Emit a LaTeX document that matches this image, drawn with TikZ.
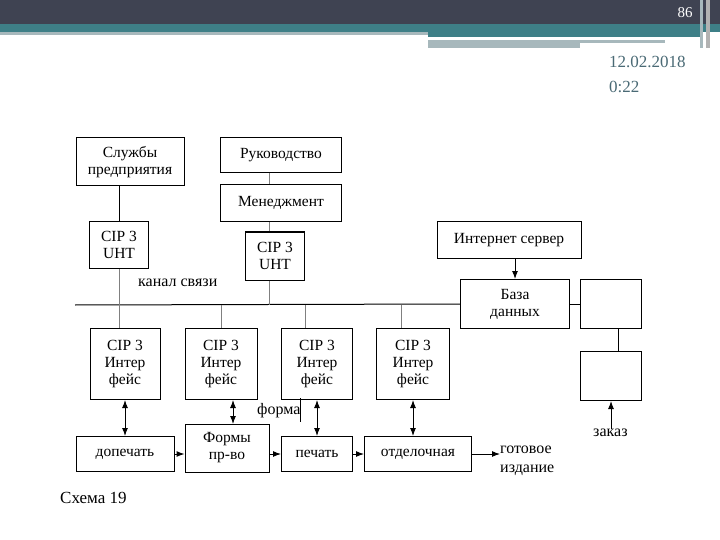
\documentclass[tikz,border=0pt]{standalone}
\usepackage{fontspec}
\setmainfont{Liberation Serif}
\usetikzlibrary{arrows.meta}
\definecolor{dark}{HTML}{3F4352}
\definecolor{teal}{HTML}{3E7F87}
\definecolor{lgray}{HTML}{A7B8BC}
\definecolor{datec}{HTML}{4A6A75}
\begin{document}
\begin{tikzpicture}[x=1pt,y=-1pt,
  bx/.style={draw,line width=1pt,inner sep=0pt,align=center,font=\fontsize{15.5}{17}\selectfont},
  ln/.style={line width=1pt},
  gl/.style={line width=1pt,draw=gray},
  arr/.style={line width=1pt,-{Latex[length=8pt,width=6pt]}},
  darr/.style={line width=1pt,{Latex[length=8pt,width=6pt]}-{Latex[length=8pt,width=6pt]}},
  lb/.style={font=\fontsize{16}{19}\selectfont,inner sep=0pt,align=left}]
\useasboundingbox (0,0) rectangle (720,540);
\fill[white] (0,0) rectangle (720,540);
% header
\fill[dark] (0,0) rectangle (720,24);
\fill[teal] (0,24) rectangle (720,32);
\fill[lgray] (0,32) rectangle (428,35);
\fill[teal] (428,32) rectangle (700,37);
\fill[lgray] (428,40) rectangle (665,43);
\fill[lgray] (428,43) rectangle (580,48);
\fill[lgray] (700,0) rectangle (703,48);
\fill[gray!60] (706,0) rectangle (710,48);
\node[text=white,font=\fontsize{15}{17}\selectfont] (pg) at (685,13) {86};
\node[text=datec,anchor=west,font=\fontsize{17}{19}\selectfont,inner sep=0pt] (dt) at (609,62) {12.02.2018};
\node[text=datec,anchor=west,font=\fontsize{17}{19}\selectfont,inner sep=0pt] (tm) at (609,87) {0:22};
% boxes
\node[bx,minimum width=108,minimum height=48] (sl) at (130,162) {Службы\\предприятия};
\node[bx,minimum width=121,minimum height=35] (ruk) at (281,155) {Руководство};
\node[bx,minimum width=121,minimum height=37] (men) at (281,203) {Менеджмент};
\node[bx,minimum width=59,minimum height=47] (u1) at (119,245) {CIP 3\\UHT};
\node[bx,minimum width=59,minimum height=48] (u2) at (275,256) {CIP 3\\UHT};
\node[bx,minimum width=144,minimum height=36] (inet) at (509,240) {Интернет сервер};
\node[bx,minimum width=109,minimum height=49] (db) at (515,304) {База\\данных};
\node[bx,minimum width=61,minimum height=49] (r1) at (611,304) {};
\node[bx,minimum width=61,minimum height=49] (r2) at (611,376) {};
\node[bx,minimum width=70,minimum height=71] (i1) at (125,364) {CIP 3\\Интер\\фейс};
\node[bx,minimum width=72,minimum height=71] (i2) at (221,364) {CIP 3\\Интер\\фейс};
\node[bx,minimum width=71,minimum height=71] (i3) at (317,364) {CIP 3\\Интер\\фейс};
\node[bx,minimum width=73,minimum height=71] (i4) at (413,364) {CIP 3\\Интер\\фейс};
\node[bx,minimum width=98,minimum height=35] (dop) at (125,454) {допечать};
\node[bx,minimum width=84,minimum height=48] (form) at (227,448) {Формы\\пр-во};
\node[bx,minimum width=71,minimum height=35] (pech) at (317,454) {печать};
\node[bx,minimum width=107,minimum height=35] (otd) at (418,454) {отделочная};
% bus
\coordinate (bl) at (75,305);
\draw[ln] (bl) -- (db.west);
\draw[ln] (db.east) -- (r1.west);
% vertical lines
\draw[ln] (sl.south -| u1) -- (u1.north);
\draw[gl] (u1.south) -- (u1.south |- i1.north);
\draw[gl] (ruk.south -| 269,0) -- (men.north -| 269,0);
\draw[gl] (men.south -| 269,0) -- (u2.north -| 269,0);
\draw[gl] (u2.south -| 269,0) -- (269,305);
\draw[gl] (221,305) -- (i2.north);
\draw[gl] (305,305) -- (i3.north -| 305,0);
\draw[gl] (401,305) -- (i4.north -| 401,0);
\draw[ln] (r1.south -| 618,0) -- (r2.north -| 618,0);
\draw[arr] (inet.south -| db) -- (db.north);
\node[lb,anchor=west] (kan) at (138,283) {канал связи};
% bottom
\draw[darr] (i1.south) -- (i1.south |- dop.north);
\draw[darr] (i2.south -| 233,0) -- (233,424);
\draw[darr] (i3.south) -- (i3.south |- pech.north);
\draw[darr] (i4.south) -- (i4.south |- otd.north);
\draw[arr] (dop.east) -- (dop.east -| form.west);
\draw[arr] (form.east |- pech.west) -- (pech.west);
\draw[arr] (pech.east) -- (otd.west);
\node[lb,anchor=north west] (got) at (500,446) {готовое\\издание};
\draw[arr] (otd.east) -- (got.west |- otd.east);
\node[lb,anchor=west] (fm) at (257,411) {форма};
\draw[line width=0.4pt] (300,398) -- (300,422);
\node[lb,anchor=west] (zak) at (593,433) {заказ};
\draw[arr] (zak.north -| r2) -- (r2.south);
\node[lb,anchor=west,font=\fontsize{17}{19}\selectfont] (sch) at (60,498) {Схема 19};
\end{tikzpicture}
\end{document}
